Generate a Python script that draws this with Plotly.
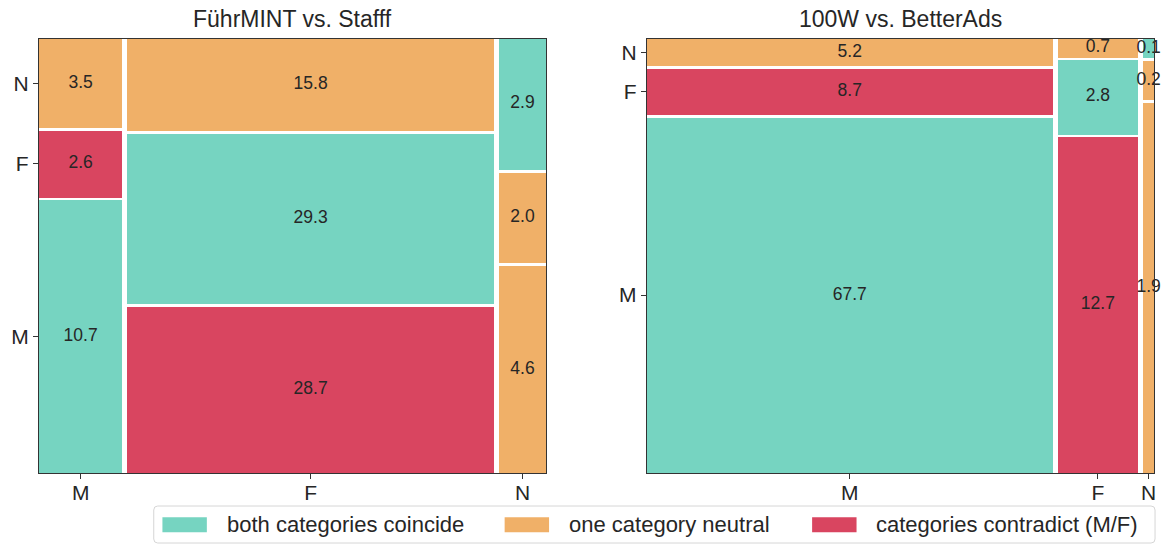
import numpy as np
import plotly.graph_objects as go

# ---- data: share of names (%) per category pair ------------------------------
categories = ["M", "F", "N"]

# FührMINT category (columns) vs. Stafff category (rows M, F, N)
fuehrmint_M = [10.7, 2.6, 3.5]
fuehrmint_F = [28.7, 29.3, 15.8]
fuehrmint_N = [4.6, 2.0, 2.9]

# 100W category (columns) vs. BetterAds category (rows M, F, N)
w100_M = [67.7, 8.7, 5.2]
w100_F = [12.7, 2.8, 0.7]
w100_N = [1.9, 0.2, 0.1]

panel_titles = ["FührMINT vs. Stafff", "100W vs. BetterAds"]
legend_labels = ["both categories coincide", "one category neutral",
                 "categories contradict (M/F)"]
legend_colors = ["#76D4C1", "#F0B068", "#D94560"]

panels = [[fuehrmint_M, fuehrmint_F, fuehrmint_N],
          [w100_M, w100_F, w100_N]]

FONT = "Liberation Sans, Arial, sans-serif"
TXT = "#262626"
W, H = 1176, 544
GAP = 0.01  # gap between columns; rows use GAP / 1.5


def split(start, size, values, gap):
    """Split an interval proportionally to values, leaving gaps in between."""
    p = np.asarray(values, float)
    p = p / p.sum()
    starting = np.concatenate([[0.0], np.cumsum(p)[:-1]]) + gap * np.arange(len(p))
    extension = starting[-1] + p[-1]
    return start + starting / extension * size, p / extension * size


def relation(i, j):
    if i == j:
        return 0          # both categories coincide
    if 2 in (i, j):
        return 1          # one category neutral
    return 2              # contradicting M/F


fig = go.Figure()

x_domains = [[39 / W, 547 / W], [648 / W, 1156 / W]]
y_domain = [71 / H, 505.5 / H]

for p, cols in enumerate(panels):
    xa = "x" if p == 0 else "x2"
    ya = "y" if p == 0 else "y2"
    totals = [sum(c) for c in cols]
    cx0, cw = split(0.0, 1.0, totals, GAP)
    groups = {k: dict(x=[], w=[], b=[], h=[]) for k in range(3)}
    tx, ty, tt = [], [], []
    first_rows = None
    for i, col in enumerate(cols):
        ry0, rh = split(0.0, 1.0, col, GAP / 1.5)
        if i == 0:
            first_rows = ry0 + rh / 2
        for j, v in enumerate(col):
            g = groups[relation(i, j)]
            g["x"].append(cx0[i] + cw[i] / 2)
            g["w"].append(cw[i])
            g["b"].append(ry0[j])
            g["h"].append(rh[j])
            tx.append(cx0[i] + cw[i] / 2)
            ty.append(ry0[j] + rh[j] / 2)
            tt.append(f"{v:.1f}")
    for k in range(3):
        g = groups[k]
        fig.add_trace(go.Bar(
            x=g["x"], y=g["h"], base=g["b"], width=g["w"],
            marker=dict(color=legend_colors[k], line=dict(width=0)),
            name=legend_labels[k], showlegend=False, hoverinfo="skip",
            xaxis=xa, yaxis=ya))
    fig.add_trace(go.Scatter(
        x=tx, y=ty, text=tt, mode="text", cliponaxis=False,
        textfont=dict(family=FONT, size=17.5, color=TXT),
        showlegend=False, hoverinfo="skip", xaxis=xa, yaxis=ya))

    axis_common = dict(range=[0, 1], showgrid=False, zeroline=False,
                       showline=True, mirror=True, linecolor="#333333",
                       linewidth=1.2, ticks="outside", ticklen=5,
                       tickwidth=1.2, tickcolor="#333333",
                       tickfont=dict(family=FONT, size=21, color=TXT))
    xkey = "xaxis" if p == 0 else "xaxis2"
    ykey = "yaxis" if p == 0 else "yaxis2"
    fig.layout[xkey] = dict(axis_common, domain=x_domains[p], anchor=ya,
                            ticklabelstandoff=-4,
                            tickvals=list(cx0 + cw / 2), ticktext=categories)
    fig.layout[ykey] = dict(axis_common, domain=y_domain, anchor=xa,
                            tickvals=list(first_rows), ticktext=categories)

    fig.add_annotation(
        text=panel_titles[p], xref="paper", yref="paper",
        x=sum(x_domains[p]) / 2, y=1 - 19 / H, xanchor="center", yanchor="middle",
        showarrow=False, font=dict(family=FONT, size=23, color=TXT))

# ---- legend drawn below the panels -----------------------------------------
bx0, bx1, by0, by1, r = 154, 1157, 506, 543, 4


def px(x):
    return x / W


def py(y):
    return 1 - y / H


box_path = (f"M {px(bx0 + r)},{py(by0)} L {px(bx1 - r)},{py(by0)} "
            f"Q {px(bx1)},{py(by0)} {px(bx1)},{py(by0 + r)} "
            f"L {px(bx1)},{py(by1 - r)} Q {px(bx1)},{py(by1)} {px(bx1 - r)},{py(by1)} "
            f"L {px(bx0 + r)},{py(by1)} Q {px(bx0)},{py(by1)} {px(bx0)},{py(by1 - r)} "
            f"L {px(bx0)},{py(by0 + r)} Q {px(bx0)},{py(by0)} {px(bx0 + r)},{py(by0)} Z")
fig.add_shape(type="path", path=box_path, xref="paper", yref="paper",
              line=dict(color="#D6D6D6", width=1), fillcolor="rgba(255,255,255,0.8)")

item_x = [162.7, 505.5, 813.5]
for lx, label, color in zip(item_x, legend_labels, legend_colors):
    fig.add_shape(type="rect", xref="paper", yref="paper",
                  x0=px(lx), x1=px(lx + 44.5), y0=py(532.3), y1=py(517.3),
                  line=dict(width=0), fillcolor=color)
    fig.add_annotation(text=label, xref="paper", yref="paper",
                       x=px(lx + 62.3), y=py(524.5), xanchor="left", yanchor="middle",
                       showarrow=False, font=dict(family=FONT, size=22, color=TXT))

fig.update_layout(
    width=W, height=H, margin=dict(l=0, r=0, t=0, b=0),
    paper_bgcolor="white", plot_bgcolor="white",
    barmode="overlay", bargap=0, showlegend=False)

fig.write_html("out.html")
